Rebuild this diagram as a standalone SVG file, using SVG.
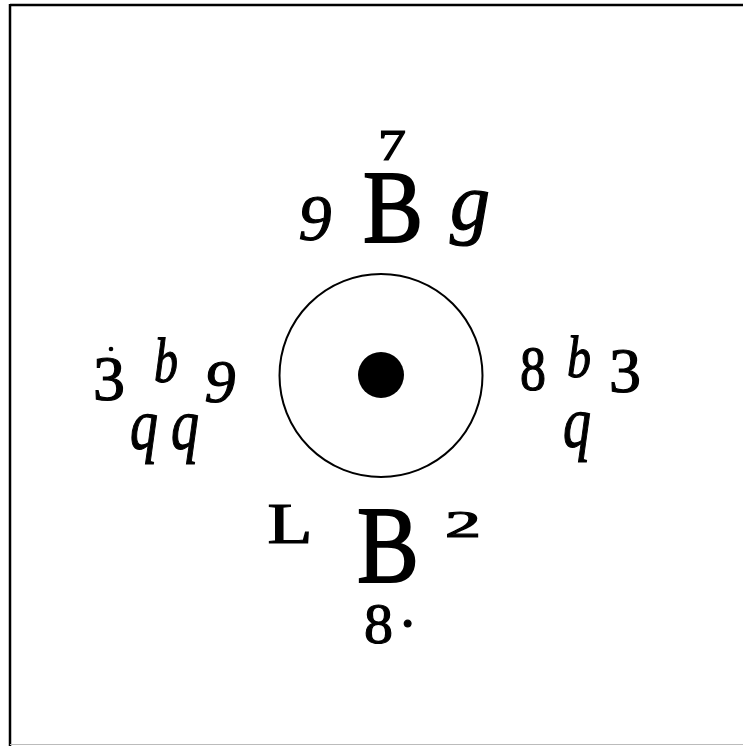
<svg xmlns="http://www.w3.org/2000/svg" width="743" height="746" viewBox="0 0 743 746">
<style>
.t{font-family:"Liberation Serif","Times New Roman",serif;fill:#000;stroke:#000;stroke-width:1.2;text-anchor:middle}
.i{font-style:italic}
.B{stroke-width:2}
</style>
<rect x="0" y="0" width="743" height="746" fill="#fff"/>
<g id="frame">
<line x1="10" y1="5" x2="743" y2="5" stroke="#000" stroke-width="2.5"/>
<line x1="10" y1="4" x2="10" y2="746" stroke="#000" stroke-width="2.5"/>
<line x1="10" y1="744.5" x2="743" y2="744.5" stroke="#bbb" stroke-width="1"/>
</g>
<g id="circle">
<circle cx="381" cy="375.5" r="101.5" fill="none" stroke="#000" stroke-width="2"/>
<circle cx="381" cy="375" r="23" fill="#000"/>
</g>
<g id="top">
<text class="t" x="392" y="160" font-size="44" textLength="28" lengthAdjust="spacingAndGlyphs">7</text>
<text class="t B" x="393" y="242" font-size="104" textLength="60" lengthAdjust="spacingAndGlyphs">B</text>
<text class="t i" x="315" y="240" font-size="66">9</text>
<text class="t i" x="470" y="229" font-size="80">g</text>
</g>
<g id="left">
<text class="t" x="109" y="400" font-size="64">3</text>
<circle cx="111" cy="349" r="2.3" fill="#000"/>
<text class="t i" x="166" y="382" font-size="64" textLength="24" lengthAdjust="spacingAndGlyphs">b</text>
<text class="t i" x="220" y="402" font-size="62">9</text>
<text class="t i" x="144" y="449" font-size="72" textLength="28" lengthAdjust="spacingAndGlyphs">q</text>
<text class="t i" x="185" y="449" font-size="72" textLength="28" lengthAdjust="spacingAndGlyphs">q</text>
</g>
<g id="right">
<text class="t" x="533" y="390" font-size="64" textLength="26" lengthAdjust="spacingAndGlyphs">8</text>
<text class="t i" x="579" y="377" font-size="60" textLength="24" lengthAdjust="spacingAndGlyphs">b</text>
<text class="t" x="625" y="392" font-size="64">3</text>
<text class="t i" x="577" y="447" font-size="72" textLength="28" lengthAdjust="spacingAndGlyphs">q</text>
</g>
<g id="bottom">
<text class="t" x="290" y="543" font-size="56" textLength="45" lengthAdjust="spacingAndGlyphs">L</text>
<text class="t B" x="388" y="582" font-size="110" textLength="62" lengthAdjust="spacingAndGlyphs">B</text>
<text class="t" x="463" y="537" font-size="37" textLength="36" lengthAdjust="spacingAndGlyphs">2</text>
<text class="t" x="364" y="643" font-size="58" letter-spacing="5" style="text-anchor:start">8·</text>
</g>
</svg>
